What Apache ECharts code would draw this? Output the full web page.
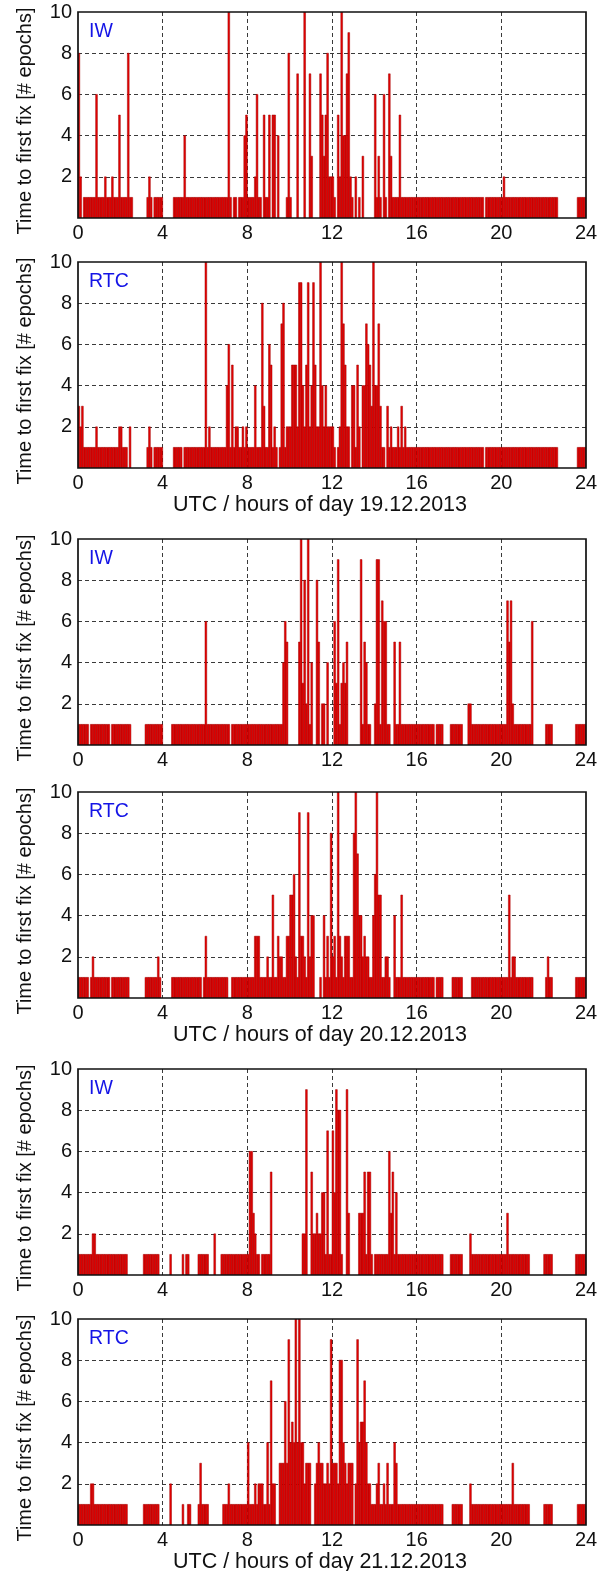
<!DOCTYPE html>
<html>
<head>
<meta charset="utf-8">
<script src="https://cdn.jsdelivr.net/npm/echarts@6/dist/echarts.min.js"></script>
<style>
  html, body { margin: 0; padding: 0; background: #fff; }
  #chart { width: 611px; height: 1571px; }
</style>
</head>
<body>
<div id="chart"></div>
<script>
// Time to first fix per 5-minute bin. One string per UTC hour, 12 bins each;
// digits are epochs, 'A' stands for 10, '0' means no fix attempt in that bin.
const iw19 = [
  "820111111161", "111211121115", "111181100000", "000121011111",
  "000000111111", "411111111111", "111111111111", "1A1011011145",
  "111126110511", "505504000018", "10007000A007", "300007535822",
  "21052A447921", "020103000000", "613106107311", "115111111111",
  "111111111111", "111111111111", "111111111111", "110111111111",
  "121111111111", "111111111111", "111111110000", "000000011111"
];
const rtc19 = [
  "323111111121", "111111111112", "211102000000", "000121011111",
  "000000111110", "111111111111", "A12111111111", "461512211212",
  "111141118311", "651210178122", "255529942592", "49522A424222",
  "21012A752204", "41520447653A", "447311031211", "121312111111",
  "111111111111", "111111111111", "111111111111", "110111111111",
  "111111111111", "111111111111", "111111110000", "000000011111"
];
const iw20 = [
  "111111011111", "111111011111", "111111000000", "001111111111",
  "000001111111", "111111111111", "611111111111", "110111111111",
  "111111111111", "111111114650", "000005A382A1", "400850220400",
  "063913435000", "000091541100", "299176611005", "115111111111",
  "111111111101", "111000011111", "110002211111", "111111111111",
  "111757211111", "111116000000", "011110000000", "000000111111"
];
const rtc20 = [
  "111111012111", "111111011111", "111110000000", "001111111210",
  "000001111111", "111111111101", "311111111111", "100111111111",
  "111133311112", "115113221133", "556219332192", "440001041318",
  "231A32133311", "8A7442322114", "6A5511221004", "111511111111",
  "111111111101", "111000001111", "110000011111", "111111111111",
  "111151221111", "111111000000", "012110000000", "000000111111"
];
const iw21 = [
  "111111112211", "111111111111", "111100000000", "011111111100",
  "000010000001", "011000001111", "110002000111", "111111111111",
  "166321101111", "150000000000", "000000022900", "522322441711",
  "749881009300", "000333515510", "111111116351", "411111111111",
  "111111111111", "111000011111", "110000211111", "111111111111",
  "111311111111", "111100000000", "111110000000", "000000111111"
];
const rtc21 = [
  "111111122111", "111111111111", "111100000000", "011111111100",
  "000020000001", "001100001311", "110000000011", "121111111111",
  "411121222114", "172200333639", "454A4A442333", "002343322329",
  "333288432333", "029455742211", "123112131114", "311111111111",
  "111111111111", "111000001111", "110000211111", "111111111111",
  "111111311111", "111100000000", "111110000000", "000000011111"
];

const dayLabels = ["19.12.2013", "20.12.2013", "21.12.2013"];
const receiverLabels = ["IW", "RTC"];

const panels = [
  { hours: iw19,  receiver: 0, day: 0 },
  { hours: rtc19, receiver: 1, day: 0 },
  { hours: iw20,  receiver: 0, day: 1 },
  { hours: rtc20, receiver: 1, day: 1 },
  { hours: iw21,  receiver: 0, day: 2 },
  { hours: rtc21, receiver: 1, day: 2 }
];

// Turn the hourly strings into [binStart, binEnd, value] records (hours of day).
function toBins(hours) {
  const out = [];
  hours.forEach((s, h) => {
    const n = s.length;
    for (let i = 0; i < n; i++) {
      const v = parseInt(s[i], 16);
      if (v > 0) out.push([h + i / n, h + (i + 1) / n, v]);
    }
  });
  return out;
}

const FONT = "Arial, 'Liberation Sans', Helvetica, sans-serif";
const plotLeft = 78, plotWidth = 508, plotHeight = 206;
const plotTops = [12, 262, 539, 792, 1069, 1319];

const grids = [], xAxes = [], yAxes = [], series = [], graphics = [];
const dash = { color: "#3a3a3a", width: 1, type: [4, 3] };

panels.forEach((p, i) => {
  const top = plotTops[i];
  grids.push({
    left: plotLeft, top: top, width: plotWidth, height: plotHeight,
    outerBoundsMode: "none", containLabel: false
  });
  xAxes.push({
    type: "value", gridIndex: i, min: 0, max: 24, interval: 4,
    axisLine: { show: false }, axisTick: { show: false },
    axisLabel: { color: "#111", fontSize: 20, fontFamily: FONT, margin: 5 },
    splitLine: { show: true, showMinLine: false, showMaxLine: false, lineStyle: dash },
    name: p.receiver === 1 ? "UTC / hours of day " + dayLabels[p.day] : "",
    nameLocation: "middle", nameGap: 24,
    nameTextStyle: { color: "#111", fontSize: 21.5, fontFamily: FONT, padding: [0, 24, 0, 0] }
  });
  yAxes.push({
    type: "value", gridIndex: i, min: 0, max: 10, interval: 2,
    axisLine: { show: false }, axisTick: { show: false },
    axisLabel: {
      color: "#111", fontSize: 20, fontFamily: FONT, margin: 6,
      formatter: v => (v === 0 ? "" : String(v))
    },
    splitLine: { show: true, showMinLine: false, showMaxLine: false, lineStyle: dash },
    name: "Time to first fix [# epochs]",
    nameLocation: "middle", nameGap: 43, nameRotate: 90,
    nameTextStyle: { color: "#111", fontSize: 20, fontFamily: FONT, padding: [0, 12, 0, 0] }
  });
  series.push({
    type: "custom", xAxisIndex: i, yAxisIndex: i,
    data: toBins(p.hours),
    encode: { x: [0, 1], y: 2 },
    clip: true,
    renderItem: (params, api) => {
      const a = api.coord([api.value(0), api.value(2)]);
      const b = api.coord([api.value(1), 0]);
      return {
        type: "rect",
        shape: { x: a[0], y: a[1], width: b[0] - a[0], height: b[1] - a[1] },
        style: { fill: "#e80000", stroke: "#9c0000", lineWidth: 0.5 }
      };
    },
    z: 2
  });
  // plot frame
  graphics.push({
    type: "rect", z: 100, silent: true,
    shape: { x: plotLeft, y: top, width: plotWidth, height: plotHeight },
    style: { fill: null, stroke: "#111", lineWidth: 1.7 }
  });
  // receiver tag inside the plot
  graphics.push({
    type: "text", z: 101, left: plotLeft + 11, top: top + 10,
    style: {
      text: receiverLabels[p.receiver], fill: "#1414e6",
      fontSize: 19.5, fontFamily: FONT
    }
  });
});

const chart = echarts.init(document.getElementById("chart"), null, { renderer: "canvas" });
chart.setOption({
  animation: false,
  backgroundColor: "#fff",
  grid: grids,
  xAxis: xAxes,
  yAxis: yAxes,
  series: series,
  graphic: graphics
});
</script>
</body>
</html>
